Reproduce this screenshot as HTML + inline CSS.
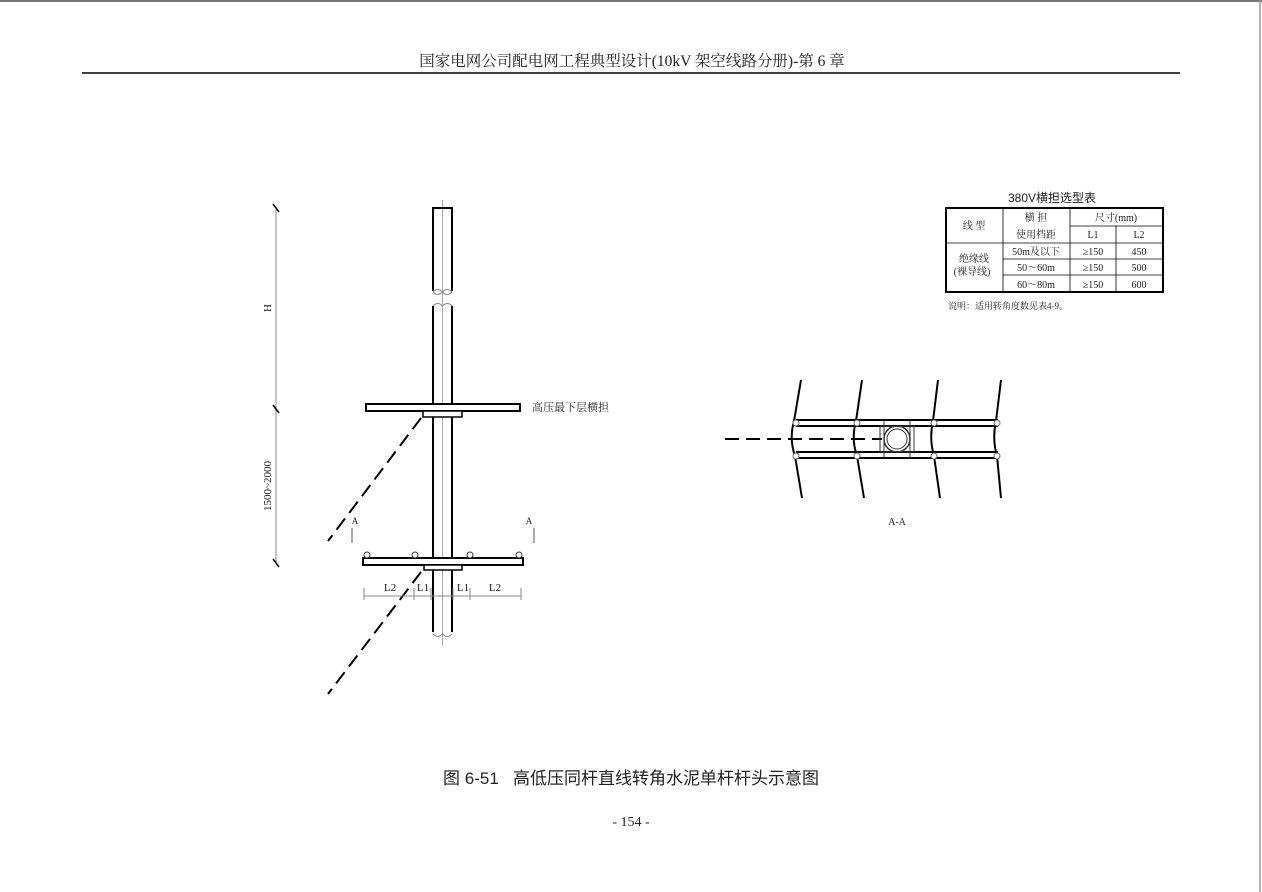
<!DOCTYPE html>
<html><head><meta charset="utf-8"><style>
html,body{margin:0;padding:0;background:#fff}
svg{display:block}
text{font-family:"Liberation Serif","Noto Serif CJK SC",serif;fill:#222}
</style></head><body>
<svg width="1262" height="892" viewBox="0 0 1262 892" xmlns="http://www.w3.org/2000/svg">
<line x1="0" y1="1" x2="1262" y2="1" stroke="#777" stroke-width="2"/>
<line x1="1260" y1="0" x2="1260" y2="892" stroke="#999" stroke-width="1.5"/>
<text x="632" y="66" font-size="15.5" text-anchor="middle">国家电网公司配电网工程典型设计(10kV 架空线路分册)-第 6 章</text>
<line x1="82" y1="73" x2="1180" y2="73" stroke="#000" stroke-width="1.5"/>

<g stroke="#888" stroke-width="1" fill="none">
<line x1="276" y1="207" x2="276" y2="563"/>
<line x1="442.5" y1="200" x2="442.5" y2="645" stroke="#aaa"/>
</g>
<g stroke="#000" stroke-width="1.5">
<line x1="273" y1="204" x2="279" y2="212"/>
<line x1="273" y1="405" x2="279" y2="413"/>
<line x1="273" y1="559" x2="279" y2="567"/>
</g>
<text x="271" y="308" font-size="11" transform="rotate(-90 271 308)" text-anchor="middle">H</text>
<text x="271" y="486" font-size="11" transform="rotate(-90 271 486)" text-anchor="middle">1500~2000</text>

<g stroke="#000" stroke-width="2" fill="none">
<path d="M433 291 V208 H452 V291"/>
<path d="M433 306 V632"/>
<path d="M452 306 V632"/>
</g>
<g stroke="#888" stroke-width="1" fill="none">
<path d="M433 292 q5 -5 9.5 0 q5 -5 9.5 0 q-5 5 -9.5 0 q-5 5 -9.5 0"/>
<path d="M433 306 q5 -5 9.5 0 q5 -5 9.5 0"/>
<path d="M433 634 q5 5 9.5 0 q5 5 9.5 0"/>
</g>

<rect x="366" y="404" width="154" height="7" fill="#fff" stroke="#000" stroke-width="2"/>
<rect x="423" y="411" width="39" height="6" fill="#fff" stroke="#000" stroke-width="1.5"/>
<text x="532" y="411" font-size="11">高压最下层横担</text>

<rect x="363" y="558" width="160" height="7" fill="#fff" stroke="#000" stroke-width="2"/>
<rect x="424" y="565" width="38" height="5" fill="#fff" stroke="#000" stroke-width="1.5"/>
<g fill="#fff" stroke="#333" stroke-width="1">
<circle cx="367" cy="555" r="3"/><circle cx="415" cy="555" r="3"/>
<circle cx="470" cy="555" r="3"/><circle cx="519" cy="555" r="3"/>
</g>

<g stroke="#000" stroke-width="2" stroke-dasharray="14,7">
<line x1="421" y1="418" x2="328" y2="541"/>
<line x1="421" y1="572" x2="328" y2="694"/>
</g>

<text x="355" y="524" font-size="9" text-anchor="middle">A</text>
<text x="529" y="524" font-size="9" text-anchor="middle">A</text>
<g stroke="#555" stroke-width="1"><line x1="352" y1="528" x2="352" y2="543"/><line x1="534" y1="528" x2="534" y2="543"/></g>

<g stroke="#888" stroke-width="1">
<line x1="364" y1="596" x2="521" y2="596"/>
<line x1="364" y1="588" x2="364" y2="600"/><line x1="414" y1="588" x2="414" y2="600"/>
<line x1="431" y1="588" x2="431" y2="600"/><line x1="453" y1="588" x2="453" y2="600"/>
<line x1="470" y1="588" x2="470" y2="600"/><line x1="521" y1="588" x2="521" y2="600"/>
</g>
<g font-size="11" text-anchor="middle"><text x="390" y="591">L2</text><text x="423" y="591">L1</text><text x="463" y="591">L1</text><text x="495" y="591">L2</text></g>

<g stroke="#000" stroke-width="2" fill="none">
<line x1="725" y1="439" x2="882" y2="439" stroke-dasharray="14,7"/>
<line x1="796" y1="420" x2="998" y2="420"/>
<line x1="796" y1="426" x2="998" y2="426"/>
<line x1="796" y1="452" x2="998" y2="452"/>
<line x1="796" y1="458" x2="998" y2="458"/>
<path d="M801 380 L794 421 Q789 439 795 456 L802 498"/>
<path d="M862 380 L856 421 Q851 439 857 456 L864 498"/>
<path d="M938 380 L933 421 Q929 439 934 456 L940 498"/>
<path d="M1001 380 L996 421 Q992 439 997 456 L1001 498"/>
</g>
<g stroke="#333" stroke-width="1" fill="none">
<rect x="880" y="426" width="34" height="26"/>
<line x1="884" y1="420" x2="884" y2="458"/><line x1="910" y1="420" x2="910" y2="458"/>
<circle cx="897" cy="439" r="13" stroke-width="1.5"/><circle cx="897" cy="439" r="10"/>
</g>
<g fill="#fff" stroke="#666" stroke-width="1">
<circle cx="796" cy="423" r="3"/><circle cx="857" cy="423" r="3"/><circle cx="934" cy="423" r="3"/><circle cx="997" cy="423" r="3"/>
<circle cx="796" cy="456" r="3"/><circle cx="857" cy="456" r="3"/><circle cx="934" cy="456" r="3"/><circle cx="997" cy="456" r="3"/>
</g>
<text x="897" y="525" font-size="10" text-anchor="middle">A-A</text>

<text x="1052" y="202" font-size="12" text-anchor="middle" style="font-family:'Liberation Sans','Noto Sans CJK SC',sans-serif">380V横担选型表</text>
<g stroke="#000" fill="none">
<rect x="946" y="208" width="217" height="84" stroke-width="2"/>
<g stroke-width="0.8">
<line x1="1003" y1="208" x2="1003" y2="292"/>
<line x1="1070" y1="208" x2="1070" y2="292"/>
<line x1="1116" y1="226" x2="1116" y2="292"/>
<line x1="1070" y1="226" x2="1163" y2="226"/>
<line x1="946" y1="243" x2="1163" y2="243"/>
<line x1="1003" y1="259" x2="1163" y2="259"/>
<line x1="1003" y1="275" x2="1163" y2="275"/>
</g></g>
<g font-size="10" text-anchor="middle">
<text x="974" y="229">线  型</text>
<text x="1036" y="221">横     担</text>
<text x="1036" y="238">使用档距</text>
<text x="1116" y="221">尺寸(mm)</text>
<text x="1093" y="238">L1</text><text x="1139" y="238">L2</text>
<text x="974" y="262">绝缘线</text><text x="972" y="275">(裸导线)</text>
<text x="1036" y="255">50m及以下</text><text x="1093" y="255">≥150</text><text x="1139" y="255">450</text>
<text x="1036" y="271">50～60m</text><text x="1093" y="271">≥150</text><text x="1139" y="271">500</text>
<text x="1036" y="288">60～80m</text><text x="1093" y="288">≥150</text><text x="1139" y="288">600</text>
</g>
<text x="948" y="309" font-size="9">说明：适用转角度数见表4-9。</text>

<text x="631" y="784" font-size="17" text-anchor="middle" style="font-family:'Liberation Sans','Noto Sans CJK SC',sans-serif;white-space:pre" xml:space="preserve">图 6-51   高低压同杆直线转角水泥单杆杆头示意图</text>
<text x="631" y="826" font-size="14" text-anchor="middle">- 154 -</text>
</svg>
</body></html>
